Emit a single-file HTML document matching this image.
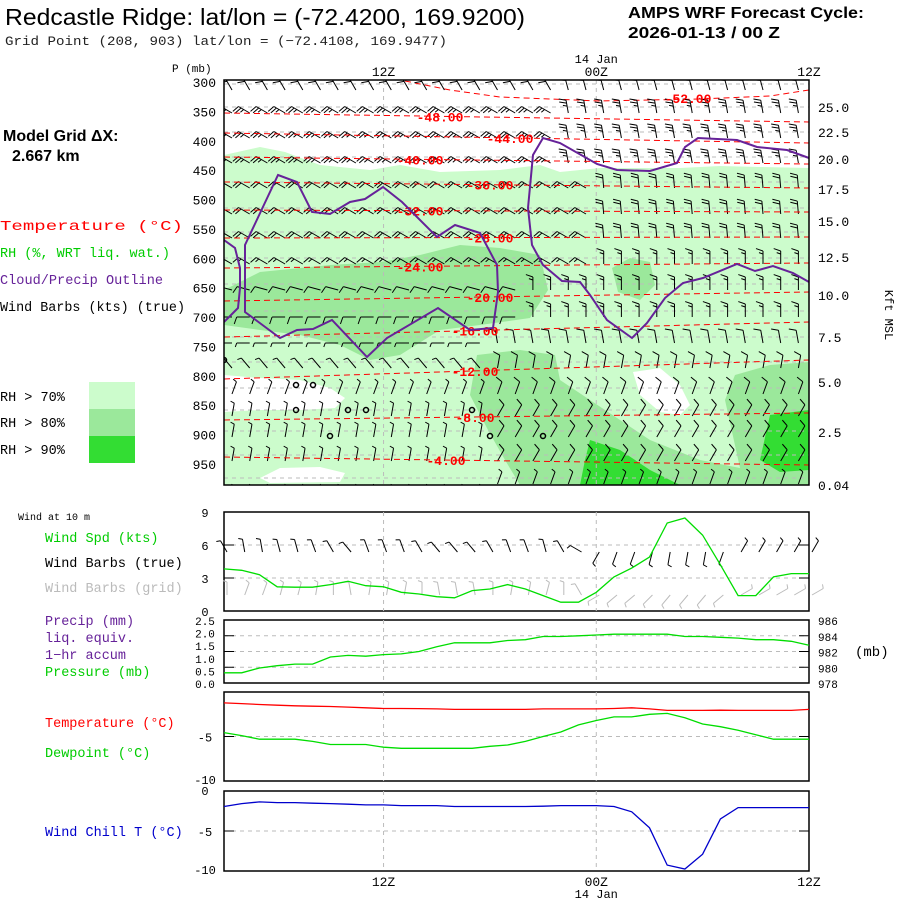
<!DOCTYPE html>
<html><head><meta charset="utf-8"><style>
html,body{margin:0;padding:0;background:#fff;}
svg{display:block;}
text{font-family:"Liberation Mono",monospace;}
.t{font-family:"Liberation Sans",sans-serif;}
</style></head><body>
<svg id="chart" width="900" height="900" viewBox="0 0 900 900">
<defs><clipPath id="mainclip"><rect x="224" y="80" width="585" height="405"/></clipPath></defs>
<rect width="900" height="900" fill="#fff"/>
<g>
<text class="t" x="5" y="25" font-size="23" textLength="520" lengthAdjust="spacingAndGlyphs">Redcastle Ridge:  lat/lon = (-72.4200, 169.9200)</text>
<text x="5" y="45" font-size="13" textLength="442" lengthAdjust="spacingAndGlyphs" fill="#222">Grid Point (208, 903) lat/lon = (−72.4108, 169.9477)</text>
<text class="t" x="628" y="18" font-size="16" font-weight="bold" textLength="236" lengthAdjust="spacingAndGlyphs">AMPS WRF Forecast Cycle:</text>
<text class="t" x="628" y="38" font-size="16" font-weight="bold" textLength="152" lengthAdjust="spacingAndGlyphs">2026-01-13 / 00  Z</text>
</g>
<g font-size="13.5">
<text class="t" x="3" y="141" font-size="16" font-weight="bold">Model Grid ΔX:</text>
<text class="t" x="12" y="161" font-size="16" font-weight="bold">2.667 km</text>
<text x="0" y="230" fill="#ff0000" textLength="183" lengthAdjust="spacingAndGlyphs">Temperature (°C)</text>
<text x="0" y="257" fill="#00cc00" textLength="170" lengthAdjust="spacingAndGlyphs">RH (%, WRT liq. wat.)</text>
<text x="0" y="284" fill="#662299" textLength="163" lengthAdjust="spacingAndGlyphs">Cloud/Precip Outline</text>
<text x="0" y="311" fill="#000" textLength="185" lengthAdjust="spacingAndGlyphs">Wind Barbs (kts) (true)</text>
<text x="0" y="401">RH &gt; 70%</text>
<text x="0" y="427">RH &gt; 80%</text>
<text x="0" y="454">RH &gt; 90%</text>
<rect x="89" y="382" width="46" height="27" fill="#ccfccc"/>
<rect x="89" y="409" width="46" height="27" fill="#9be89b"/>
<rect x="89" y="436" width="46" height="27" fill="#33dd33"/>
<text x="18" y="520" font-size="10">Wind at 10 m</text>
<text x="45" y="542" fill="#00cc00">Wind Spd (kts)</text>
<text x="45" y="567" fill="#000">Wind Barbs (true)</text>
<text x="45" y="592" fill="#bbb">Wind Barbs (grid)</text>
<text x="45" y="625" fill="#662299">Precip (mm)</text>
<text x="45" y="642" fill="#662299">liq. equiv.</text>
<text x="45" y="659" fill="#662299">1−hr accum</text>
<text x="45" y="676" fill="#00cc00">Pressure (mb)</text>
<text x="45" y="727" fill="#ff0000">Temperature (°C)</text>
<text x="45" y="757" fill="#00cc00">Dewpoint (°C)</text>
<text x="45" y="836" fill="#0000cc">Wind Chill T (°C)</text>
</g>
<g id="main"></g>
<g id="lower"></g>
</svg>
<script>
// ---------- data ----------
const pLevels = [300,350,400,450,500,550,600,650,700,750,800,850,900,950];
const kftLabels = ["25.0","22.5","20.0","17.5","15.0","12.5","10.0","7.5","5.0","2.5","0.04"];
const kftPos = [107,132,159,189,221,257,295,337,382,432,485];
const isoTemps = [-48,-44,-40,-36,-32,-28,-24,-20,-16,-12,-8,-4];
const isoLeftY = [113,133,157,182,210,238,268,301,337,379,420,457];
const isoRightY = [122,143,164,188,212,237,263,292,322,360,413,465];
const isoLabelX = [440,510,420,490,420,490,420,490,475,475,475,446];
const barbRowY = [84,107,132,157,182,208,232,258,284,311,337,362,388,410,431,455,478];
const rowSplit = [19,19,19,19,21,21,21,21,17,17,15,15,15,15,15,15,15];
const dirA = [330,300,300,300,300,300,300,300,285,270,270,320,20,10,10,10,200];
const dirB = [345,350,350,350,355,355,355,0,0,0,350,10,20,30,30,30,20];
const spdA = [20,25,25,25,20,20,20,15,10,10,5,5,5,5,5,5,5];
const spdB = [15,25,25,25,20,20,20,15,15,15,10,10,10,10,10,10,5];
const calmPts = [[296,385],[313,385],[296,410],[348,410],[366,410],[330,436],[472,410],[490,436],[543,436],[224,360]];
const hours = Array.from({length:34},(_,i)=>i);
const windSpd = [3.83,3.7,3.3,2.2,2.16,2.16,2.4,2.7,2.3,2.2,1.7,1.55,1.3,1.2,1.85,2.0,2.4,2.0,1.4,0.8,0.8,1.7,3.1,3.9,4.9,8.0,8.45,6.9,4.2,1.4,1.4,3.1,3.4,3.4];
const windDir = [330,350,350,345,345,340,330,320,340,340,340,330,320,320,320,330,340,340,345,330,300,210,200,200,195,190,190,190,200,30,30,30,30,30];
const pressure = [979.3,979.3,979.9,980.2,980.4,980.4,981.3,981.5,981.4,981.6,981.7,982.0,982.6,983.1,983.1,983.1,983.4,983.5,983.9,983.9,984.0,984.1,984.2,984.2,984.2,984.2,983.9,983.9,983.8,983.7,983.5,983.5,983.3,982.8];
const tempC = [-1.22,-1.3,-1.4,-1.48,-1.55,-1.6,-1.63,-1.7,-1.78,-1.85,-1.85,-1.87,-1.9,-1.96,-1.96,-1.96,-1.96,-1.96,-1.9,-1.9,-1.9,-1.9,-1.85,-1.78,-1.9,-2.07,-2.07,-2.07,-2.04,-2.07,-2.07,-2.07,-2.07,-1.96];
const dewC = [-4.56,-4.9,-5.3,-5.3,-5.3,-5.55,-5.9,-5.9,-5.9,-6.2,-6.33,-6.33,-6.33,-6.33,-6.33,-6.1,-5.96,-5.55,-5.0,-4.5,-3.7,-3.2,-2.8,-2.8,-2.5,-2.4,-2.9,-3.6,-3.9,-4.3,-4.8,-5.3,-5.3,-5.3];
const windChill = [-1.94,-1.57,-1.36,-1.45,-1.45,-1.53,-1.57,-1.65,-1.74,-1.74,-1.82,-1.82,-1.82,-1.94,-1.94,-1.94,-1.94,-1.94,-1.9,-1.82,-1.82,-1.82,-1.94,-2.6,-4.6,-9.26,-9.75,-7.9,-3.5,-2.07,-2.07,-2.07,-2.07,-2.07];
const timeTicks = ["12Z","00Z","12Z"];
const timeTickHours = [9,21,33];

// ---------- helpers ----------
const NS="http://www.w3.org/2000/svg";
const L=224,R=809;
const xH = h => L + h*(R-L)/33;
function mk(tag, attrs, parent){const e=document.createElementNS(NS,tag);for(const k in attrs)e.setAttribute(k,attrs[k]);parent.appendChild(e);return e;}
function txt(parent,x,y,s,size,anchor,fill){const t=mk('text',{x:x,y:y,'font-size':size,'text-anchor':anchor||'start',fill:fill||'#000'},parent);t.textContent=s;return t;}
function barb(parent,x,y,dir,spd,col){
  const g=mk('g',{stroke:col,'stroke-width':1,fill:'none'},parent);
  
  
  const a=dir*Math.PI/180, dx=Math.sin(a), dy=-Math.cos(a), Ls=13;
  const ex=x+Ls*dx, ey=y+Ls*dy;
  mk('line',{x1:x,y1:y,x2:ex,y2:ey},g);
  const px=dy, py=-dx;
  let n=Math.round(spd/5), pos=0;
  while(n>0){const len=n>=2?7:4;const bx=ex-pos*3*dx, by=ey-pos*3*dy;
    mk('line',{x1:bx,y1:by,x2:bx+len*(px+0.35*dx),y2:by+len*(py+0.35*dy)},g);n-=2;pos++;}
}
// ---------- main cross-section ----------
const M0=document.getElementById('main');
const M=mk('g',{'clip-path':'url(#mainclip)'},M0);


const T=80,B=485;
const pY = p => 82 + (p-300)*(464-82)/650;
const poly=(pts,fill,name)=>{const e=mk('polygon',{points:pts,fill:fill},M);};
poly("224,155 260,147 285,152 320,165 370,170 400,165 440,172 500,170 540,165 560,172 600,168 640,168 680,168 720,166 760,167 809,168 809,485 224,485","#ccfccc","rh70-region");
poly("224,375 260,378 300,380 330,388 345,398 335,408 300,410 260,410 224,412","#fff","dry-patch-1");
poly("260,478 280,468 320,467 345,473 340,482 270,483","#fff","dry-patch-2");
poly("633,372 660,368 680,385 690,405 680,415 660,412 640,395","#fff","dry-patch-3");
poly("224,290 260,272 300,268 330,265 380,262 420,255 460,245 500,248 540,255 548,290 530,318 480,325 440,330 400,355 370,360 340,345 300,335 260,330 224,325","#9be89b","rh80-region-1");
poly("477,355 520,350 555,355 560,380 590,400 620,420 650,440 700,460 740,468 725,400 735,375 770,365 809,362 809,485 520,485 505,460 488,430 470,395","#9be89b","rh80-region-2");
poly("612,268 630,258 650,262 655,285 640,300 618,292","#9be89b","rh80-region-3");
poly("590,440 620,450 650,470 680,485 580,485 585,460","#33dd33","rh90-region-1");
poly("770,415 809,410 809,470 780,472 760,460","#33dd33","rh90-region-2");
barbRowY.forEach(y=>{const l=mk('line',{x1:L,x2:R,y1:y,y2:y,stroke:'#bbb','stroke-dasharray':'4,4'},M);});
timeTickHours.slice(0,2).forEach(h=>{const l=mk('line',{x1:xH(h),x2:xH(h),y1:T,y2:B,stroke:'#bbb','stroke-dasharray':'4,4'},M);});
const iso52=mk('polyline',{points:"405,81 450,90 500,97 600,101 700,99 770,96 809,90",fill:'none',stroke:'#f00','stroke-dasharray':'6,4'},M);


// barbs
barbRowY.forEach((y,r)=>{for(let c=0;c<33;c++){const x=L+8+c*17.7;barb(M,x,y+6,c<rowSplit[r]?dirA[r]:dirB[r],c<rowSplit[r]?spdA[r]:spdB[r],'#000');}});
isoTemps.forEach((t,i)=>{
  const l=mk('line',{x1:L,y1:isoLeftY[i],x2:R,y2:isoRightY[i],stroke:'#f00','stroke-dasharray':'6,4'},M);
  
  
  const f=(isoLabelX[i]-L)/(R-L);const y=isoLeftY[i]+f*(isoRightY[i]-isoLeftY[i]);
  const lb=txt(M,isoLabelX[i],y+5,t.toFixed(2),13,'middle','#f00');lb.setAttribute('font-weight','bold');
  
  
});
const l52=txt(M,688,103,"-52.00",13,'middle','#f00');l52.setAttribute('font-weight','bold');
const c1=mk('polyline',{points:"224,240 235,248 240,268 240,288 238,308 224,322",fill:'none',stroke:'#662299','stroke-width':2},M);


const c2=mk('polygon',{points:"278,175 297,182 312,212 330,214 350,202 365,199 383,187 402,202 437,237 455,225 480,233 497,265 498,292 493,328 470,330 438,308 387,338 367,357 332,320 313,329 297,330 280,338 245,312 245,245",fill:'none',stroke:'#662299','stroke-width':2},M);


const c3=mk('polyline',{points:"809,158 787,150 757,147 737,140 698,138 685,147 677,163 650,171 617,170 597,164 560,143 543,138 533,155 528,208 532,245 543,265 562,281 580,282 590,295 607,320 632,338 647,323 665,298 683,283 703,278 737,264 755,271 773,266 793,273 809,282",fill:'none',stroke:'#662299','stroke-width':2},M);


calmPts.forEach(p=>{const e=mk('circle',{cx:p[0],cy:p[1],r:2.5,fill:'none',stroke:'#000','stroke-width':1.5},M);});
const mf=mk('rect',{x:L,y:T,width:R-L,height:B-T,fill:'none',stroke:'#000','stroke-width':1.5},M0);


pLevels.forEach(p=>{const t=txt(M0,216,pY(p)+5,String(p),13,'end');});
kftLabels.forEach((s,i)=>{const t=txt(M0,818,kftPos[i]+5,s,13,'start');});
txt(M0,172,72,"P (mb)",11,'start');
const km=txt(M0,0,0,"Kft MSL",12,'middle');km.setAttribute('transform','translate(885,315) rotate(90)');


timeTicks.forEach((s,i)=>{const t=txt(M0,xH(timeTickHours[i]),76,s,13,'middle');});
txt(M0,xH(21),63,"14 Jan",12,'middle');
// ---------- lower panels ----------
const G=document.getElementById('lower');
function panel(top,bot,name,grids){
  const f=mk('rect',{x:L,y:top,width:R-L,height:bot-top,fill:'none',stroke:'#000','stroke-width':1.5},G);
  
  
  grids.forEach(y=>{mk('line',{x1:L,x2:R,y1:y,y2:y,stroke:'#bbb','stroke-dasharray':'4,4'},G);mk('line',{x1:L,x2:L+10,y1:y,y2:y,stroke:'#000'},G);mk('line',{x1:R-10,x2:R,y1:y,y2:y,stroke:'#000'},G);});
  timeTickHours.slice(0,2).forEach(h=>mk('line',{x1:xH(h),x2:xH(h),y1:top,y2:bot,stroke:'#bbb','stroke-dasharray':'4,4'},G));
}
function series(vals,yf,col,name){
  const pts=vals.map((v,i)=>xH(hours[i]).toFixed(1)+','+yf(v).toFixed(1)).join(' ');
  const e=mk('polyline',{points:pts,fill:'none',stroke:col,'stroke-width':1.3},G);
  
  
}
const yW=v=>611-v*99/9;
panel(512,611,'wind-panel',[yW(3),yW(6)]);
["0","3","6","9"].forEach((s,i)=>txt(G,205,yW(i*3)+5,s,12,'middle'));
windDir.forEach((d,i)=>{barb(G,xH(hours[i])+3,552,d,5,'#000');barb(G,xH(hours[i])+3,595,(d+30)%360,5,'#bbb');});
series(windSpd,yW,'#00dd00','wind-speed-line');
const yP=v=>683-(v-978)*63/8;
panel(620,683,'pressure-panel',[yP(980),yP(982),yP(984)]);
["986","984","982","980","978"].forEach((s,i)=>txt(G,818,yP(986-2*i)+5,s,11,'start'));
["2.5","2.0","1.5","1.0","0.5","0.0"].forEach((s,i)=>txt(G,205,620+i*12.6+5,s,11,'middle'));
txt(G,855,656,"(mb)",14,'start');
series(pressure,yP,'#00dd00','pressure-line');
const yT=v=>692-v*89/10;
panel(692,781,'temperature-panel',[yT(-5)]);
txt(G,205,yT(-5)+5,"-5",12,'middle');txt(G,205,784,"-10",12,'middle');
series(tempC,yT,'#ff0000','temperature-line');
series(dewC,yT,'#00dd00','dewpoint-line');
const yC=v=>791-v*80/10;
panel(791,871,'wind-chill-panel',[yC(-5)]);
txt(G,205,795,"0",12,'middle');txt(G,205,yC(-5)+5,"-5",12,'middle');txt(G,205,874,"-10",12,'middle');
series(windChill,yC,'#0000cc','wind-chill-line');
timeTicks.forEach((s,i)=>{const t=txt(G,xH(timeTickHours[i]),886,s,13,'middle');});
txt(G,xH(21),898,"14 Jan",12,'middle');
</script>
</body></html>
